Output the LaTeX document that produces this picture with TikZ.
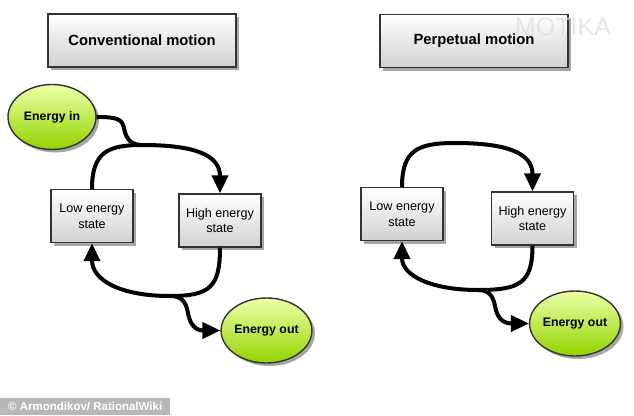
\documentclass[tikz,border=0pt]{standalone}
\usepackage{fontspec}
\setmainfont{Liberation Sans}
\usetikzlibrary{shapes.geometric,shadows,arrows.meta}
\definecolor{boxedge}{HTML}{333333}
\definecolor{greenlight}{HTML}{EEFFA8}
\definecolor{greendark}{HTML}{92D400}
\tikzset{
  shad/.style={drop shadow={shadow xshift=3pt,shadow yshift=-3pt,opacity=0.35,fill=black}},
  titlebox/.style={draw=boxedge,line width=1.4pt,top color=white,bottom color=black!18,
    minimum width=188pt,minimum height=53pt,inner sep=0pt,shad,
    font=\fontsize{14.8}{17}\selectfont\bfseries},
  statebox/.style={draw=boxedge,line width=1.4pt,top color=white,bottom color=black!18,
    minimum width=82pt,minimum height=53pt,inner sep=0pt,shad,align=center,
    font=\fontsize{12.6}{15.5}\selectfont},
  energy/.style={ellipse,draw=boxedge,line width=1.4pt,top color=greenlight,bottom color=greendark,
    minimum width=88pt,minimum height=65pt,inner sep=0pt,shad,
    font=\fontsize{12.3}{14}\selectfont\bfseries},
  conn/.style={line width=4pt,-{Triangle[length=18pt,width=16pt]}},
  line/.style={line width=4pt},
}
\begin{document}
\begin{tikzpicture}[x=1pt,y=-1pt]
\useasboundingbox (0,0) rectangle (634,415);
\fill[white] (0,0) rectangle (634,415);
% left diagram
\node[titlebox] (titleL) at (142,40.5) {Conventional motion};
\node[energy] (inL) at (52,117) {Energy in};
\node[statebox] (lowL) at (92,216) {Low energy\\state};
\node[statebox] (highL) at (220,220.5) {High energy\\state};
\node[energy] (outL) at (266.5,330.5) {Energy out};
\coordinate (mTopL) at (142,145);
\coordinate (mBotL) at (170,296);
\draw[conn] (lowL.north) .. controls (92,152) and (108,145) .. (mTopL)
  .. controls (195,145) and (220,155) .. (highL.north);
\draw[line] (inL.east) .. controls (117,117) and (122,119) .. (124,128)
  .. controls (126,140) and (132,145) .. (mTopL);
\draw[conn] (highL.south) .. controls (220,287) and (210,296) .. (mBotL)
  .. controls (120,296) and (92,280) .. (lowL.south);
\draw[conn] (mBotL) .. controls (182,296) and (186,302) .. (188,313)
  .. controls (190,325) and (196,330.5) .. (outL.west);
% right diagram
\node[titlebox] (titleR) at (474,41) {Perpetual motion};
\node[statebox] (lowR) at (402,214) {Low energy\\state};
\node[statebox] (highR) at (532.5,218.5) {High energy\\state};
\node[energy] (outR) at (575,323.5) {Energy out};
\coordinate (mTopR) at (455,143);
\coordinate (mBotR) at (478,290);
\draw[conn] (lowR.north) .. controls (402,150) and (418,143) .. (mTopR)
  .. controls (507,143) and (532.5,153) .. (highR.north);
\draw[conn] (highR.south) .. controls (532.5,283) and (520,290) .. (mBotR)
  .. controls (430,290) and (402,275) .. (lowR.south);
\draw[conn] (mBotR) .. controls (489,290) and (493,296) .. (495,306)
  .. controls (497,318) and (503,323.5) .. (outR.west);
% watermark
\node[text=black!12,opacity=0.8,font=\fontsize{25}{27}\selectfont,inner sep=0pt] (wm) at (563,27) {MOTIKA};
% credit
\node[fill=black!28,text=white,anchor=south west,minimum width=170pt,minimum height=17pt,
  inner sep=0pt,font=\fontsize{11.5}{13}\selectfont\bfseries] (credit) at (0,415)
  {\textcopyright{} Armondikov/ RationalWiki};
\end{tikzpicture}
\end{document}
